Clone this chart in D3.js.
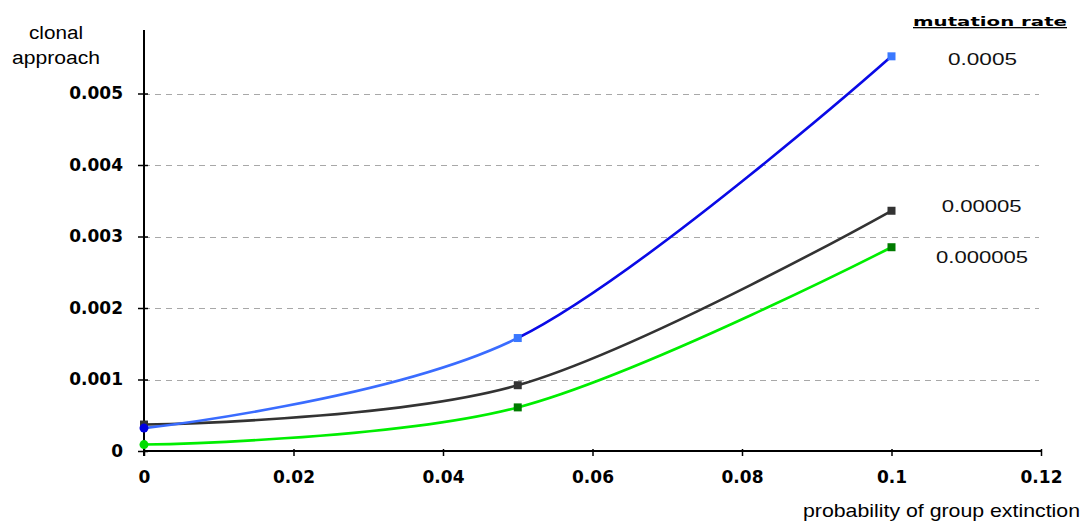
<!DOCTYPE html>
<html>
<head>
<meta charset="utf-8">
<script src="https://cdn.jsdelivr.net/npm/d3@7"></script>
<style>
  html, body { margin: 0; padding: 0; background: #fff; }
  svg { display: block; font-family: "Liberation Sans", Arial, sans-serif; }
</style>
</head>
<body>
<svg id="chart" width="1086" height="529"></svg>
<script>
// Probability of group extinction (x) for each measured point
const extinction = [0, 0.05, 0.1];

// Clonal approach values per mutation rate
const rate0005 = [0.00032, 0.00158, 0.00552];
const rate00005 = [0.00037, 0.00092, 0.00336];
const rate000005 = [0.00009, 0.00061, 0.00285];

const seriesNames = ["0.0005", "0.00005", "0.000005"];

const xTicks = [0, 0.02, 0.04, 0.06, 0.08, 0.1, 0.12];
const xTickLabels = ["0", "0.02", "0.04", "0.06", "0.08", "0.1", "0.12"];
const yTicks = [0, 0.001, 0.002, 0.003, 0.004, 0.005];
const yTickLabels = ["0", "0.001", "0.002", "0.003", "0.004", "0.005"];

const svg = d3.select("#chart");

const x = d3.scaleLinear().domain([0, 0.12]).range([144, 1041]);
const y = d3.scaleLinear().domain([0, 0.005]).range([451, 93.5]);
const yTop = 30;

// Dashed horizontal gridlines
svg.append("g")
  .selectAll("line")
  .data(yTicks.slice(1))
  .join("line")
  .attr("x1", x(0)).attr("x2", 1039)
  .attr("y1", d => Math.round(y(d)) + 0.5).attr("y2", d => Math.round(y(d)) + 0.5)
  .attr("stroke", "#a8a8a8")
  .attr("stroke-width", 1.2)
  .attr("stroke-dasharray", "6,5");

// Y axis
const yAxis = svg.append("g")
  .attr("transform", `translate(${x(0)},0)`)
  .call(d3.axisLeft(y).tickValues(yTicks).tickFormat((d, i) => yTickLabels[i]).tickSize(0).tickPadding(21));
yAxis.select(".domain").remove();
yAxis.append("line")
  .attr("x1", 0).attr("x2", 0).attr("y1", yTop).attr("y2", y(0) + 5)
  .attr("stroke", "#000").attr("stroke-width", 2);
yAxis.selectAll(".tick").append("line")
  .attr("x1", -6).attr("x2", 4)
  .attr("stroke", "#000").attr("stroke-width", 1.5);
yAxis.selectAll("text")
  .attr("fill", "#000")
  .style("font-family", "'DejaVu Sans', sans-serif")
  .style("font-size", "17px")
  .style("font-weight", "bold");

// X axis
const xAxis = svg.append("g")
  .attr("transform", `translate(0,${y(0)})`)
  .call(d3.axisBottom(x).tickValues(xTicks).tickFormat((d, i) => xTickLabels[i]).tickSize(0).tickPadding(20));
xAxis.select(".domain").remove();
xAxis.append("line")
  .attr("x1", x(0)).attr("x2", x(0.12) + 1).attr("y1", 0).attr("y2", 0)
  .attr("stroke", "#000").attr("stroke-width", 2);
xAxis.selectAll(".tick").append("line")
  .attr("y1", -2).attr("y2", 5)
  .attr("stroke", "#000").attr("stroke-width", 1.5);
xAxis.selectAll("text")
  .attr("fill", "#000")
  .style("font-family", "'DejaVu Sans', sans-serif")
  .style("font-size", "17px")
  .style("font-weight", "bold");

// Smoothed lines (each segment clipped so it can carry its own shade)
const line = d3.line()
  .x(d => x(d[0]))
  .y(d => y(d[1]))
  .curve(d3.curveCatmullRom.alpha(0));

let clipCount = 0;
function drawSeries(values, segColors, markerColors, firstMarker) {
  const pts = extinction.map((e, i) => [e, values[i]]);
  const g = svg.append("g");
  segColors.forEach((c, i) => {
    const clipId = "seg-clip-" + (clipCount++);
    svg.append("clipPath").attr("id", clipId)
      .append("rect")
      .attr("x", i === 0 ? 0 : x(extinction[i]))
      .attr("width", i === 0 ? x(extinction[1]) : 1086 - x(extinction[i]))
      .attr("y", 0).attr("height", 529);
    g.append("path")
      .attr("d", line(pts))
      .attr("fill", "none")
      .attr("stroke", c)
      .attr("stroke-width", 2.6)
      .attr("clip-path", `url(#${clipId})`);
  });
  pts.forEach((p, i) => {
    if (i === 0 && firstMarker === "circle") {
      g.append("circle")
        .attr("cx", x(p[0])).attr("cy", y(p[1])).attr("r", 4.5)
        .attr("fill", markerColors[i]);
    } else {
      g.append("rect")
        .attr("x", x(p[0]) - 4).attr("y", y(p[1]) - 4)
        .attr("width", 8).attr("height", 8)
        .attr("fill", markerColors[i]);
    }
  });
}

drawSeries(rate000005, ["#00ee00", "#00ee00"], ["#00dd00", "#007a00", "#007a00"], "circle");
drawSeries(rate00005, ["#333333", "#333333"], ["#333333", "#333333", "#333333"], "square");
drawSeries(rate0005, ["#3a6cff", "#0a0ae6"], ["#0000e0", "#3a78ff", "#3a78ff"], "circle");

// Text helper: fixed width, glyphs stretched to fill it
function stretchedText(parent, str, cx, baseline, width, size, anchor) {
  return parent.append("text")
    .attr("x", cx).attr("y", baseline)
    .attr("text-anchor", anchor || "middle")
    .attr("textLength", width)
    .attr("lengthAdjust", "spacingAndGlyphs")
    .attr("fill", "#000")
    .style("font-size", size + "px")
    .text(str);
}

// Series labels at right
const labelPos = [
  { name: seriesNames[0], cx: 982.5, base: 65, w: 69 },
  { name: seriesNames[1], cx: 981.7, base: 212, w: 80 },
  { name: seriesNames[2], cx: 982, base: 263, w: 92 }
];
const labels = svg.append("g");
labelPos.forEach(d => {
  stretchedText(labels, d.name, d.cx, d.base, d.w, 17).attr("fill", "#111");
});

// Legend title
stretchedText(svg, "mutation rate", 913, 26, 154, 13, "start")
  .style("font-family", "'DejaVu Sans', sans-serif")
  .style("font-weight", "bold")
  .style("text-decoration", "underline");

// Y axis title
stretchedText(svg, "clonal", 56, 39, 54, 18);
stretchedText(svg, "approach", 56, 64, 88, 18);

// X axis title
stretchedText(svg, "probability of group extinction", 1080, 517, 277, 19, "end");
</script>
</body>
</html>
